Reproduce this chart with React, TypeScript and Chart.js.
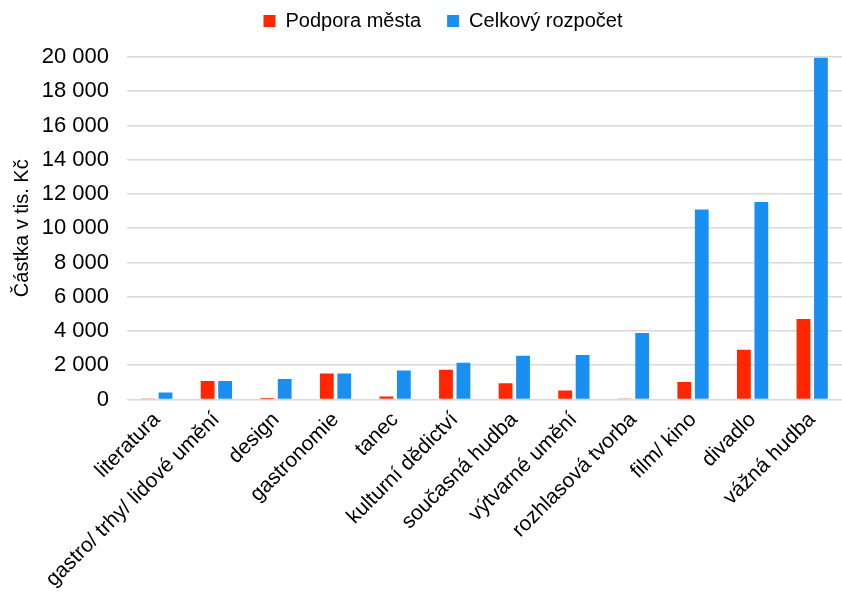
import React, { useEffect, useRef } from "react";
import { Chart, registerables } from "chart.js";

Chart.register(...registerables);

const categories = [
  "literatura",
  "gastro/ trhy/ lidové umění",
  "design",
  "gastronomie",
  "tanec",
  "kulturní dědictví",
  "současná hudba",
  "výtvarné umění",
  "rozhlasová tvorba",
  "film/ kino",
  "divadlo",
  "vážná hudba",
];

const podporaMesta = [30, 1080, 80, 1510, 170, 1730, 940, 530, 20, 1020, 2900, 4700];
const celkovyRozpocet = [400, 1080, 1190, 1510, 1690, 2140, 2550, 2590, 3880, 11100, 11530, 19950];

const seriesNames = ["Podpora města", "Celkový rozpočet"];
const yTitle = "Částka v tis. Kč";

const fmt = (v: number) => String(v).replace(/\B(?=(\d{3})+(?!\d))/g, " ");

const legendMargin = {
  id: "legendMargin",
  beforeInit(chart: any) {
    const origFit = chart.legend.fit;
    chart.legend.fit = function () {
      origFit.bind(this)();
      this.height = 57;
    };
  },
  afterLayout(chart: any) {
    const lg = chart.legend;
    lg.left += 22;
    lg.right += 22;
    lg.top -= 15;
    lg.bottom -= 15;
  },
};

export default function App() {
  const ref = useRef<HTMLCanvasElement | null>(null);
  useEffect(() => {
    document.body.style.margin = "0";
    const font = "'Liberation Sans', Arial, sans-serif";
    const chart = new Chart(ref.current!, {
      type: "bar",
      data: {
        labels: categories,
        datasets: [
          { label: seriesNames[0], data: podporaMesta, backgroundColor: "#FF2600" },
          { label: seriesNames[1], data: celkovyRozpocet, backgroundColor: "#1A8FF2" },
        ],
      },
      plugins: [legendMargin],
      options: {
        animation: false,
        responsive: true,
        maintainAspectRatio: false,
        layout: { padding: { top: 0, right: 0, left: 0, bottom: 0 } },
        datasets: { bar: { categoryPercentage: 0.586, barPercentage: 0.79 } },
        plugins: {
          legend: {
            position: "top",
            labels: {
              boxWidth: 12,
              boxHeight: 12,
              padding: 26,
              color: "#000",
              font: { family: font, size: 20 },
            },
          },
          tooltip: { enabled: false },
        },
        scales: {
          x: {
            grid: { display: false },
            border: { display: false },
            ticks: {
              color: "#000",
              font: { family: font, size: 21 },
              minRotation: 45,
              maxRotation: 45,
              autoSkip: false,
              padding: 0,
            },
          },
          y: {
            min: 0,
            max: 20000,
            afterFit: (scale: any) => {
              scale.width = 127;
            },
            grid: { color: "#d9d9d9", lineWidth: 1.5, drawTicks: false },
            border: { display: false },
            ticks: {
              stepSize: 2000,
              padding: 18,
              color: "#000",
              font: { family: font, size: 22 },
              callback: (v: any) => fmt(Number(v)),
            },
            title: {
              display: true,
              text: yTitle,
              color: "#000",
              font: { family: font, size: 20 },
              padding: { top: 10, bottom: 0 },
            },
          },
        },
      },
    });
    return () => chart.destroy();
  }, []);
  return (
    <div style={{ width: 842, height: 592, position: "relative" }}>
      <canvas ref={ref} />
    </div>
  );
}
